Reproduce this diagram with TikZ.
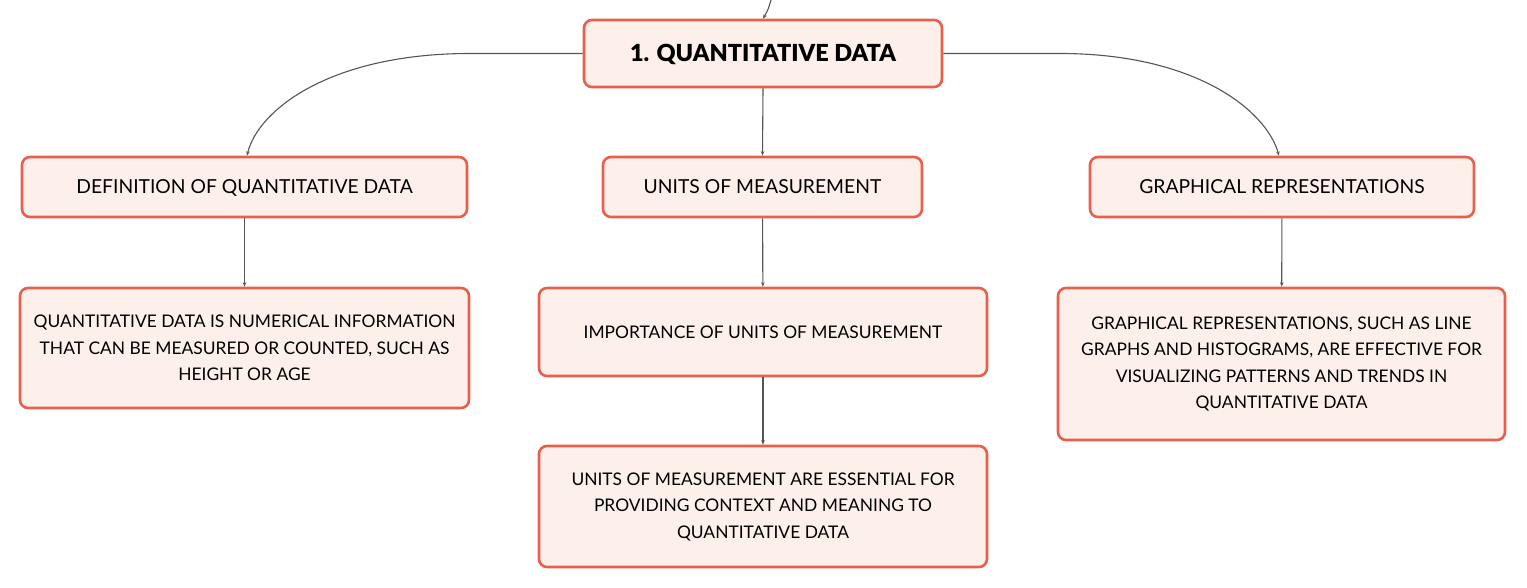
\documentclass[tikz,border=0pt]{standalone}
\usepackage{fontspec}
\setmainfont{Lato}
\newfontfamily\headfont{Lato Black}
\usetikzlibrary{arrows.meta}
\definecolor{boxline}{HTML}{E8604C}
\definecolor{boxfill}{HTML}{FDF0EB}
\definecolor{conn}{HTML}{555555}
\tikzset{
  box/.style={draw=boxline, fill=boxfill, line width=2.6pt, rounded corners=8pt,
    inner sep=0pt, align=center, font=\fontsize{17.4}{26.5}\selectfont, text=black},
  midbox/.style={box, minimum height=60pt, font=\fontsize{19.3}{24}\selectfont,
    text height=14pt, text depth=0pt},
  link/.style={draw=conn, line width=1.1pt, -{Stealth[length=4.5pt,width=3.5pt]}}
}
\begin{document}
\begin{tikzpicture}[x=1pt,y=-1pt]
\useasboundingbox (0,0) rectangle (1527,588);
\node[box, minimum width=358pt, minimum height=67pt, text height=17pt, text depth=0pt, font=\fontsize{23.5}{26}\selectfont\headfont] (top) at (763,53.5) {1. QUANTITATIVE DATA};
\node[midbox, minimum width=445pt] (def) at (244.5,187) {DEFINITION OF QUANTITATIVE DATA};
\node[midbox, minimum width=319pt] (units) at (762.5,187) {UNITS OF MEASUREMENT};
\node[midbox, minimum width=384pt] (graph) at (1282,187) {GRAPHICAL REPRESENTATIONS};
\node[box, minimum width=449pt, minimum height=120pt] (deftxt) at (244.5,348) {QUANTITATIVE DATA IS NUMERICAL INFORMATION\\THAT CAN BE MEASURED OR COUNTED, SUCH AS\\HEIGHT OR AGE};
\node[box, minimum width=448pt, minimum height=88pt, text height=12.5pt, text depth=0pt] (imp) at (763,332) {IMPORTANCE OF UNITS OF MEASUREMENT};
\node[box, minimum width=447pt, minimum height=152pt] (graphtxt) at (1281.5,364) {GRAPHICAL REPRESENTATIONS, SUCH AS LINE\\GRAPHS AND HISTOGRAMS, ARE EFFECTIVE FOR\\VISUALIZING PATTERNS AND TRENDS IN\\QUANTITATIVE DATA};
\node[box, minimum width=448pt, minimum height=121pt] (ess) at (763,506.5) {UNITS OF MEASUREMENT ARE ESSENTIAL FOR\\PROVIDING CONTEXT AND MEANING TO\\QUANTITATIVE DATA};
\coordinate (in) at (771,0);
\draw[link] (in) .. controls (768,10) .. (top.north);
\draw[link] (top.west) -- (470,53.5) .. controls (330,53.5) and (258,110) .. ([xshift=2.5pt]def.north);
\draw[link] (top.east) -- (1060,53.5) .. controls (1195,53.5) and (1266,110) .. ([xshift=-3pt]graph.north);
\draw[link] (top.south) -- (units.north);
\draw[link] (def) -- (deftxt);
\draw[link] (units) -- (imp);
\draw[link] (imp) -- (ess);
\draw[link] (graph) -- (graphtxt);
\end{tikzpicture}
\end{document}
